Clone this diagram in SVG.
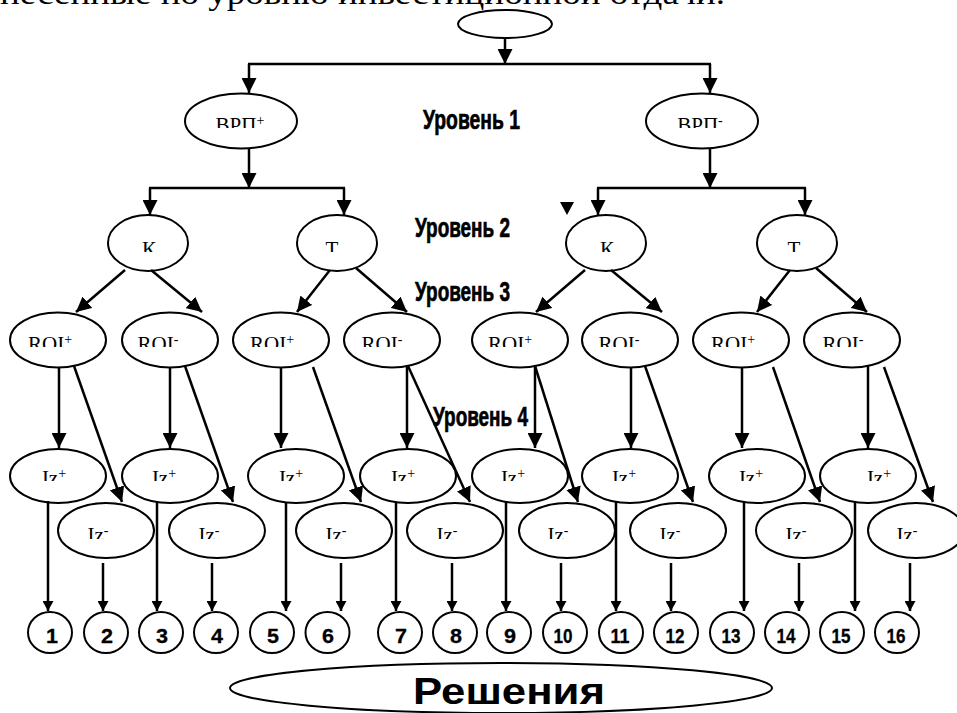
<svg xmlns="http://www.w3.org/2000/svg" width="957" height="713" viewBox="0 0 957 713">
<style>
.n ellipse{fill:#fff;stroke:#000;stroke-width:2}
.c line{stroke:#000;stroke-width:2.5;fill:none}
.a{marker-end:url(#ah)}
.s{marker-end:url(#sm)}
.lbl{font-family:"Liberation Serif","Times New Roman",serif;font-size:21px;text-anchor:middle;fill:#000}
.lvl{font-family:"Liberation Sans Narrow","Liberation Sans",Arial,sans-serif;font-weight:bold;font-size:28px;fill:#000;stroke:#000;stroke-width:0.7}
.num{font-family:"Liberation Sans Narrow","Liberation Sans",Arial,sans-serif;font-weight:bold;font-size:21px;text-anchor:middle;fill:#000;stroke:#000;stroke-width:0.3}
.top{font-family:"Liberation Serif","Times New Roman",serif;font-size:32px;fill:#000}
</style>
<defs>
<marker id="ah" markerUnits="userSpaceOnUse" markerWidth="15" markerHeight="15" refX="15" refY="7.5" orient="auto"><path d="M0,0 L15,7.5 L0,15 Z" fill="#000"/></marker>
<marker id="sm" markerUnits="userSpaceOnUse" markerWidth="10" markerHeight="11" refX="10" refY="5.5" orient="auto"><path d="M0,0 L10,5.5 L0,11 Z" fill="#000"/></marker>
<clipPath id="cut" clipPathUnits="userSpaceOnUse">
<rect x="0" y="100" width="957" height="28"/>
<rect x="0" y="225" width="957" height="27"/>
<rect x="0" y="320" width="957" height="27"/>
<rect x="0" y="460" width="957" height="21"/>
<rect x="0" y="515" width="957" height="24"/>
</clipPath>
</defs>
<rect width="957" height="713" fill="#fff"/>
<text class="top" x="0" y="4" textLength="725" lengthAdjust="spacingAndGlyphs">несенные по уровню инвестиционной отдачи.</text>

<g id="root" class="n"><ellipse cx="505" cy="24" rx="47" ry="14"/></g>
<g id="vrp_plus" class="n"><ellipse cx="241" cy="121" rx="56" ry="27.5"/><text class="lbl" x="240" y="132" clip-path="url(#cut)">ВРП<tspan font-size="14" dy="-7">+</tspan></text></g>
<g id="vrp_minus" class="n"><ellipse cx="702" cy="121" rx="56" ry="27.5"/><text class="lbl" x="700" y="132" clip-path="url(#cut)">ВРП<tspan font-size="14" dy="-7">-</tspan></text></g>
<g id="k_left" class="n"><ellipse cx="148" cy="243" rx="40" ry="28"/><text class="lbl" x="149" y="256" clip-path="url(#cut)">К</text></g>
<g id="t_left" class="n"><ellipse cx="337" cy="243" rx="40" ry="28"/><text class="lbl" x="332" y="256" clip-path="url(#cut)">Т</text></g>
<g id="k_right" class="n"><ellipse cx="606" cy="243" rx="40" ry="28"/><text class="lbl" x="607" y="256" clip-path="url(#cut)">К</text></g>
<g id="t_right" class="n"><ellipse cx="797" cy="243" rx="40" ry="28"/><text class="lbl" x="794" y="256" clip-path="url(#cut)">Т</text></g>

<g id="roi1" class="n"><ellipse cx="58" cy="340" rx="48" ry="27.5"/><text class="lbl" x="50" y="351" clip-path="url(#cut)">ROI<tspan font-size="14" dy="-7">+</tspan></text></g>
<g id="roi2" class="n"><ellipse cx="170" cy="340" rx="48" ry="27.5"/><text class="lbl" x="158" y="351" clip-path="url(#cut)">ROI<tspan font-size="14" dy="-7">-</tspan></text></g>
<g id="roi3" class="n"><ellipse cx="281" cy="340" rx="48" ry="27.5"/><text class="lbl" x="272" y="351" clip-path="url(#cut)">ROI<tspan font-size="14" dy="-7">+</tspan></text></g>
<g id="roi4" class="n"><ellipse cx="392" cy="340" rx="48" ry="27.5"/><text class="lbl" x="382" y="351" clip-path="url(#cut)">ROI<tspan font-size="14" dy="-7">-</tspan></text></g>
<g id="roi5" class="n"><ellipse cx="520" cy="340" rx="48" ry="27.5"/><text class="lbl" x="510" y="351" clip-path="url(#cut)">ROI<tspan font-size="14" dy="-7">+</tspan></text></g>
<g id="roi6" class="n"><ellipse cx="630" cy="340" rx="48" ry="27.5"/><text class="lbl" x="619" y="351" clip-path="url(#cut)">ROI<tspan font-size="14" dy="-7">-</tspan></text></g>
<g id="roi7" class="n"><ellipse cx="741" cy="340" rx="48" ry="27.5"/><text class="lbl" x="733" y="351" clip-path="url(#cut)">ROI<tspan font-size="14" dy="-7">+</tspan></text></g>
<g id="roi8" class="n"><ellipse cx="852" cy="340" rx="48" ry="27.5"/><text class="lbl" x="843" y="351" clip-path="url(#cut)">ROI<tspan font-size="14" dy="-7">-</tspan></text></g>

<g id="izp1" class="n"><ellipse cx="58" cy="476" rx="48" ry="27"/><text class="lbl" x="54" y="485" clip-path="url(#cut)">Iz<tspan font-size="14" dy="-7">+</tspan></text></g>
<g id="izp2" class="n"><ellipse cx="170" cy="476" rx="48" ry="27"/><text class="lbl" x="164" y="485" clip-path="url(#cut)">Iz<tspan font-size="14" dy="-7">+</tspan></text></g>
<g id="izp3" class="n"><ellipse cx="296" cy="476" rx="48" ry="27"/><text class="lbl" x="291" y="485" clip-path="url(#cut)">Iz<tspan font-size="14" dy="-7">+</tspan></text></g>
<g id="izp4" class="n"><ellipse cx="408" cy="476" rx="48" ry="27"/><text class="lbl" x="403" y="485" clip-path="url(#cut)">Iz<tspan font-size="14" dy="-7">+</tspan></text></g>
<g id="izp5" class="n"><ellipse cx="520" cy="476" rx="48" ry="27"/><text class="lbl" x="513" y="485" clip-path="url(#cut)">Iz<tspan font-size="14" dy="-7">+</tspan></text></g>
<g id="izp6" class="n"><ellipse cx="630" cy="476" rx="48" ry="27"/><text class="lbl" x="624" y="485" clip-path="url(#cut)">Iz<tspan font-size="14" dy="-7">+</tspan></text></g>
<g id="izp7" class="n"><ellipse cx="757" cy="476" rx="48" ry="27"/><text class="lbl" x="751" y="485" clip-path="url(#cut)">Iz<tspan font-size="14" dy="-7">+</tspan></text></g>
<g id="izp8" class="n"><ellipse cx="868" cy="476" rx="48" ry="27"/><text class="lbl" x="879" y="485" clip-path="url(#cut)">Iz<tspan font-size="14" dy="-7">+</tspan></text></g>

<g id="izm1" class="n"><ellipse cx="106" cy="530.5" rx="48" ry="27.5"/><text class="lbl" x="98" y="542" clip-path="url(#cut)">Iz<tspan font-size="14" dy="-7">-</tspan></text></g>
<g id="izm2" class="n"><ellipse cx="217" cy="530.5" rx="48" ry="27.5"/><text class="lbl" x="209" y="542" clip-path="url(#cut)">Iz<tspan font-size="14" dy="-7">-</tspan></text></g>
<g id="izm3" class="n"><ellipse cx="344" cy="530.5" rx="48" ry="27.5"/><text class="lbl" x="336" y="542" clip-path="url(#cut)">Iz<tspan font-size="14" dy="-7">-</tspan></text></g>
<g id="izm4" class="n"><ellipse cx="455" cy="530.5" rx="48" ry="27.5"/><text class="lbl" x="447" y="542" clip-path="url(#cut)">Iz<tspan font-size="14" dy="-7">-</tspan></text></g>
<g id="izm5" class="n"><ellipse cx="567" cy="530.5" rx="48" ry="27.5"/><text class="lbl" x="558" y="542" clip-path="url(#cut)">Iz<tspan font-size="14" dy="-7">-</tspan></text></g>
<g id="izm6" class="n"><ellipse cx="678" cy="530.5" rx="48" ry="27.5"/><text class="lbl" x="670" y="542" clip-path="url(#cut)">Iz<tspan font-size="14" dy="-7">-</tspan></text></g>
<g id="izm7" class="n"><ellipse cx="804" cy="530.5" rx="48" ry="27.5"/><text class="lbl" x="796" y="542" clip-path="url(#cut)">Iz<tspan font-size="14" dy="-7">-</tspan></text></g>
<g id="izm8" class="n"><ellipse cx="916" cy="530.5" rx="48" ry="27.5"/><text class="lbl" x="907" y="542" clip-path="url(#cut)">Iz<tspan font-size="14" dy="-7">-</tspan></text></g>

<g id="r1" class="n"><ellipse cx="50" cy="632.5" rx="22" ry="20.5"/><text class="num" x="52" y="643" textLength="12" lengthAdjust="spacingAndGlyphs">1</text></g>
<g id="r2" class="n"><ellipse cx="106" cy="632.5" rx="22" ry="20.5"/><text class="num" x="107" y="643" textLength="12" lengthAdjust="spacingAndGlyphs">2</text></g>
<g id="r3" class="n"><ellipse cx="161" cy="632.5" rx="22" ry="20.5"/><text class="num" x="162" y="643" textLength="12" lengthAdjust="spacingAndGlyphs">3</text></g>
<g id="r4" class="n"><ellipse cx="216" cy="632.5" rx="22" ry="20.5"/><text class="num" x="217" y="643" textLength="12" lengthAdjust="spacingAndGlyphs">4</text></g>
<g id="r5" class="n"><ellipse cx="272" cy="632.5" rx="22" ry="20.5"/><text class="num" x="273" y="643" textLength="12" lengthAdjust="spacingAndGlyphs">5</text></g>
<g id="r6" class="n"><ellipse cx="327.5" cy="632.5" rx="22" ry="20.5"/><text class="num" x="328" y="643" textLength="12" lengthAdjust="spacingAndGlyphs">6</text></g>
<g id="r7" class="n"><ellipse cx="400" cy="632.5" rx="22" ry="20.5"/><text class="num" x="401" y="643" textLength="12" lengthAdjust="spacingAndGlyphs">7</text></g>
<g id="r8" class="n"><ellipse cx="455" cy="632.5" rx="22" ry="20.5"/><text class="num" x="456" y="643" textLength="12" lengthAdjust="spacingAndGlyphs">8</text></g>
<g id="r9" class="n"><ellipse cx="509" cy="632.5" rx="22" ry="20.5"/><text class="num" x="510" y="643" textLength="12" lengthAdjust="spacingAndGlyphs">9</text></g>
<g id="r10" class="n"><ellipse cx="565" cy="632.5" rx="22" ry="20.5"/><text class="num" x="563" y="643" textLength="19" lengthAdjust="spacingAndGlyphs">10</text></g>
<g id="r11" class="n"><ellipse cx="621" cy="632.5" rx="22" ry="20.5"/><text class="num" x="620" y="643" textLength="19" lengthAdjust="spacingAndGlyphs">11</text></g>
<g id="r12" class="n"><ellipse cx="676" cy="632.5" rx="22" ry="20.5"/><text class="num" x="675" y="643" textLength="19" lengthAdjust="spacingAndGlyphs">12</text></g>
<g id="r13" class="n"><ellipse cx="732" cy="632.5" rx="22" ry="20.5"/><text class="num" x="731" y="643" textLength="19" lengthAdjust="spacingAndGlyphs">13</text></g>
<g id="r14" class="n"><ellipse cx="787" cy="632.5" rx="22" ry="20.5"/><text class="num" x="786" y="643" textLength="19" lengthAdjust="spacingAndGlyphs">14</text></g>
<g id="r15" class="n"><ellipse cx="842" cy="632.5" rx="22" ry="20.5"/><text class="num" x="841" y="643" textLength="19" lengthAdjust="spacingAndGlyphs">15</text></g>
<g id="r16" class="n"><ellipse cx="897" cy="632.5" rx="22" ry="20.5"/><text class="num" x="896" y="643" textLength="19" lengthAdjust="spacingAndGlyphs">16</text></g>

<g id="decisions" class="n"><ellipse cx="501" cy="688" rx="271" ry="25"/><text x="509" y="704" text-anchor="middle" font-family="'Liberation Sans',Arial,sans-serif" font-weight="bold" font-size="37" textLength="192" lengthAdjust="spacingAndGlyphs">Решения</text></g>

<g id="levels">
<text class="lvl" x="423" y="129" textLength="97" lengthAdjust="spacingAndGlyphs">Уровень 1</text>
<text class="lvl" x="415" y="237" textLength="95" lengthAdjust="spacingAndGlyphs">Уровень 2</text>
<text class="lvl" x="415" y="301" textLength="95" lengthAdjust="spacingAndGlyphs">Уровень 3</text>
<text class="lvl" x="433" y="426" textLength="95" lengthAdjust="spacingAndGlyphs">Уровень 4</text>
</g>

<g id="connectors" class="c">
<line class="a" x1="505" y1="38" x2="505" y2="64"/>
<line x1="248" y1="64" x2="711" y2="64"/>
<line class="a" x1="249" y1="64" x2="249" y2="93"/>
<line class="a" x1="710" y1="64" x2="710" y2="93"/>
<line class="a" x1="249" y1="148" x2="249" y2="188"/>
<line class="a" x1="710" y1="148" x2="710" y2="188"/>
<line x1="149" y1="188" x2="345" y2="188"/>
<line x1="597" y1="188" x2="806" y2="188"/>
<line class="a" x1="150" y1="188" x2="150" y2="215"/>
<line class="a" x1="344" y1="188" x2="344" y2="215"/>
<line class="a" x1="598" y1="188" x2="598" y2="215"/>
<line class="a" x1="805" y1="188" x2="805" y2="215"/>
<polygon points="560,202 574,202 567,215" fill="#000" stroke="none"/>

<line class="a" x1="125" y1="270" x2="76" y2="312"/>
<line class="a" x1="151" y1="270" x2="202" y2="312"/>
<line class="a" x1="330" y1="270" x2="297" y2="312"/>
<line class="a" x1="356" y1="268" x2="407" y2="312"/>
<line class="a" x1="585" y1="270" x2="536" y2="312"/>
<line class="a" x1="611" y1="270" x2="662" y2="312"/>
<line class="a" x1="790" y1="270" x2="757" y2="312"/>
<line class="a" x1="816" y1="268" x2="867" y2="312"/>

<line class="a" x1="59" y1="367" x2="59" y2="448"/>
<line class="a" x1="170" y1="367" x2="170" y2="448"/>
<line class="a" x1="281" y1="367" x2="281" y2="448"/>
<line class="a" x1="407" y1="366" x2="407" y2="448"/>
<line class="a" x1="535" y1="366" x2="535" y2="448"/>
<line class="a" x1="631" y1="367" x2="631" y2="448"/>
<line class="a" x1="742" y1="367" x2="742" y2="448"/>
<line class="a" x1="868" y1="366" x2="868" y2="448"/>

<line class="a" x1="74" y1="366" x2="122" y2="502"/>
<line class="a" x1="185" y1="366" x2="233" y2="502"/>
<line class="a" x1="313" y1="367" x2="361" y2="502"/>
<line class="a" x1="408" y1="366" x2="470" y2="502"/>
<line class="a" x1="535" y1="366" x2="578" y2="502"/>
<line class="a" x1="645" y1="366" x2="693" y2="502"/>
<line class="a" x1="773" y1="367" x2="820" y2="502"/>
<line class="a" x1="884" y1="367" x2="933" y2="502"/>

<line class="s" x1="48" y1="501" x2="48" y2="611"/>
<line class="s" x1="157" y1="502" x2="157" y2="611"/>
<line class="s" x1="286" y1="502" x2="286" y2="611"/>
<line class="s" x1="396" y1="502" x2="396" y2="611"/>
<line class="s" x1="506" y1="502" x2="506" y2="611"/>
<line class="s" x1="616" y1="502" x2="616" y2="611"/>
<line class="s" x1="744" y1="502" x2="744" y2="611"/>
<line class="s" x1="855" y1="502" x2="855" y2="611"/>
<line class="s" x1="103" y1="563" x2="103" y2="611"/>
<line class="s" x1="212" y1="563" x2="212" y2="611"/>
<line class="s" x1="341" y1="563" x2="341" y2="611"/>
<line class="s" x1="452" y1="563" x2="452" y2="611"/>
<line class="s" x1="561" y1="563" x2="561" y2="611"/>
<line class="s" x1="671" y1="563" x2="671" y2="611"/>
<line class="s" x1="799" y1="563" x2="799" y2="611"/>
<line class="s" x1="910" y1="563" x2="910" y2="611"/>
</g>
</svg>
